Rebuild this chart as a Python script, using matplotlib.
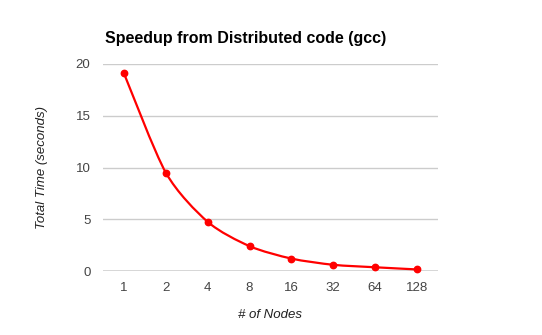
import matplotlib
matplotlib.use("Agg")
import matplotlib.pyplot as plt
from matplotlib.path import Path
from matplotlib.patches import PathPatch
import numpy as np

nodes = ["1", "2", "4", "8", "16", "32", "64", "128"]
total_time = [19.1, 9.5, 4.75, 2.4, 1.2, 0.6, 0.36, 0.15]
y_ticks = [0, 5, 10, 15, 20]

plt.rcParams['font.family'] = ['Liberation Sans', 'DejaVu Sans']

fig = plt.figure(figsize=(5.42, 3.35), dpi=100)
ax = fig.add_axes([103/542, 1-271/335, 335/542, 207/335])

x = np.arange(len(nodes))
y = np.array(total_time)

# smooth curve through points (cardinal spline via cubic Bezier segments)
verts = [(x[0], y[0])]
codes = [Path.MOVETO]
t = 0.4
n = len(x)
for i in range(n - 1):
    p0 = (x[i-1], y[i-1]) if i > 0 else (x[i], y[i])
    p1 = (x[i], y[i])
    p2 = (x[i+1], y[i+1])
    p3 = (x[i+2], y[i+2]) if i + 2 < n else (x[i+1], y[i+1])
    c1 = (p1[0] + (p2[0]-p0[0]) * t / 3, p1[1] + (p2[1]-p0[1]) * t / 3)
    c2 = (p2[0] - (p3[0]-p1[0]) * t / 3, p2[1] - (p3[1]-p1[1]) * t / 3)
    verts += [c1, c2, p2]
    codes += [Path.CURVE4] * 3
patch = PathPatch(Path(verts, codes), facecolor='none', edgecolor='#ff0000', lw=1.6, zorder=3)
ax.add_patch(patch)
ax.plot(x, y, linestyle='none', marker='o', color='#ff0000', markersize=4.6, zorder=4, clip_on=False)

ax.set_xlim(-0.5, len(nodes) - 0.5)
ax.set_ylim(0, 20)
ax.set_yticks(y_ticks)
ax.set_yticklabels([str(v) for v in y_ticks])
ax.set_xticks(x)
ax.set_xticklabels(nodes)

for v in y_ticks[1:]:
    ax.axhline(v, color='#cccccc', lw=1.0, zorder=1)
ax.axhline(0, color='#333333', lw=1.0, zorder=2)

for s in ax.spines.values():
    s.set_visible(False)
ax.tick_params(axis='both', length=0, labelsize=9.5, labelcolor='#444444')
ax.tick_params(axis='y', pad=9)
ax.tick_params(axis='x', pad=8)

ax.set_xlabel('# of Nodes', fontstyle='italic', fontsize=9.5, color='#222222', labelpad=11)
ax.set_ylabel('Total Time (seconds)', fontstyle='italic', fontsize=9.5, color='#222222', labelpad=20)

fig.text(105/542, 1-43/335, 'Speedup from Distributed code (gcc)', fontsize=11.5,
         fontweight='bold', color='#000000', ha='left', va='baseline')

fig.savefig('out.png', dpi=100)
